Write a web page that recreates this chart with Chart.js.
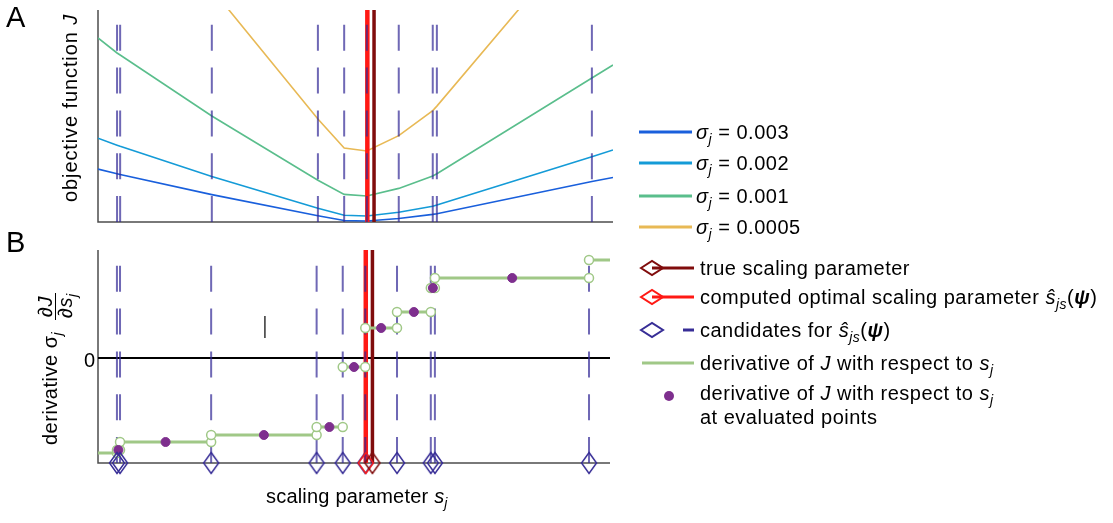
<!DOCTYPE html>
<html>
<head>
<meta charset="utf-8">
<script src="https://cdn.jsdelivr.net/npm/chart.js@4.4.1/dist/chart.umd.min.js"></script>
<style>
  body { margin: 0; width: 1113px; height: 523px; overflow: hidden; background: #fff; font-family: "Liberation Sans", Arial, sans-serif; }
  canvas { position: absolute; left: 0; }
  .t { position: absolute; font-size: 20px; line-height: 24px; letter-spacing: 0.5px; white-space: nowrap; color: #000; }
  .t sub { font-size: 14px; vertical-align: -5px; line-height: 0; }
  .rot { position: absolute; transform-origin: 0 0; transform: rotate(-90deg); }
  .panel { position: absolute; font-size: 29px; line-height: 30px; }
</style>
</head>
<body>
<canvas id="chartA" width="620" height="240" style="top:0"></canvas>
<canvas id="chartB" width="620" height="250" style="top:240px"></canvas>

<div class="panel" style="left:6px;top:2px">A</div>
<div class="panel" style="left:6px;top:227px">B</div>

<div class="rot" style="left:58px;top:202px"><div class="t" style="left:0;top:0;letter-spacing:0.9px">objective function <i>J</i></div></div>
<div class="rot" style="left:36px;top:447px">
  <div class="t" style="left:2px;top:2px">derivative σ<sub><i>j</i></sub></div>
  <div class="t" style="left:130px;top:-3px">∂<i>J</i></div>
  <div style="position:absolute;left:127px;top:18.5px;width:27px;height:1.5px;background:#000"></div>
  <div class="t" style="left:129px;top:17px">∂<i>s</i><sub><i>j</i></sub></div>
</div>
<div class="t" style="left:70px;top:348px;width:25px;text-align:right;letter-spacing:0">0</div>
<div class="t" style="left:266px;top:484px;letter-spacing:0.2px">scaling parameter <i>s</i><sub><i>j</i></sub></div>

<svg style="position:absolute;left:0;top:0" width="1113" height="523">
  <line x1="639" y1="132" x2="692" y2="132" stroke="rgb(25,95,220)" stroke-width="3"/>
  <line x1="639" y1="163" x2="692" y2="163" stroke="rgb(20,155,215)" stroke-width="3"/>
  <line x1="639" y1="196" x2="692" y2="196" stroke="rgb(90,190,140)" stroke-width="3"/>
  <line x1="639" y1="227" x2="692" y2="227" stroke="rgb(232,185,85)" stroke-width="3"/>
  <line x1="652" y1="268" x2="694" y2="268" stroke="rgb(128,12,12)" stroke-width="3"/>
  <polygon points="641,268 652,261 663,268 652,275" fill="none" stroke="rgb(128,12,12)" stroke-width="2"/>
  <line x1="652" y1="297" x2="694" y2="297" stroke="rgb(255,25,20)" stroke-width="3"/>
  <polygon points="641,297 652,290 663,297 652,304" fill="none" stroke="rgb(255,25,20)" stroke-width="2"/>
  <polygon points="641,330 652,323 663,330 652,337" fill="none" stroke="rgb(55,45,150)" stroke-width="2"/>
  <line x1="683" y1="330" x2="694" y2="330" stroke="rgb(55,45,150)" stroke-width="3"/>
  <line x1="642" y1="363" x2="694" y2="363" stroke="rgb(160,200,135)" stroke-width="3"/>
  <circle cx="669" cy="396" r="5" fill="rgb(126,47,142)"/>
</svg>

<div class="t" style="left:696px;top:120px"><i>σ</i><sub><i>j</i></sub> = 0.003</div>
<div class="t" style="left:696px;top:151px"><i>σ</i><sub><i>j</i></sub> = 0.002</div>
<div class="t" style="left:696px;top:184px"><i>σ</i><sub><i>j</i></sub> = 0.001</div>
<div class="t" style="left:696px;top:215px"><i>σ</i><sub><i>j</i></sub> = 0.0005</div>
<div class="t" style="left:700px;top:256px">true scaling parameter</div>
<div class="t" style="left:700px;top:285px">computed optimal scaling parameter <i>ŝ</i><sub><i>js</i></sub>(<b><i>ψ</i></b>)</div>
<div class="t" style="left:700px;top:318px">candidates for <i>ŝ</i><sub><i>js</i></sub>(<b><i>ψ</i></b>)</div>
<div class="t" style="left:700px;top:351px">derivative of <i>J</i> with respect to <i>s</i><sub><i>j</i></sub></div>
<div class="t" style="left:700px;top:381px">derivative of <i>J</i> with respect to <i>s</i><sub><i>j</i></sub></div>
<div class="t" style="left:700px;top:405px">at evaluated points</div>

<script>
// scaling parameter axis (arbitrary units)
var sMin = 0, sMax = 100;
var candidates = [3.7, 4.3, 22.1, 42.7, 47.8, 52.2, 58.4, 65.0, 65.8, 95.9];
var trueS = 53.6;
var optS = 52.3;

// panel A: objective function at the kinks
var sGrid = [0, 3.7, 4.3, 22.1, 42.7, 47.8, 52.2, 58.4, 65.0, 65.8, 95.9, 100];
var J003 = [5.29, 4.82, 4.75, 2.74, 0.62, 0.15, 0.10, 0.35, 0.76, 0.83, 4.05, 4.45];
var J002 = [8.38, 7.68, 7.57, 4.56, 1.38, 0.68, 0.60, 0.97, 1.58, 1.69, 6.53, 7.2];
var J001 = [18.4, 16.9, 16.7, 10.6, 4.17, 2.76, 2.60, 3.36, 4.60, 4.82, 14.4, 15.7];
var J0005 = [39.0, 36.1, 35.7, 23.3, 10.3, 7.4, 7.1, 8.64, 11.14, 11.59, 29.9, 33.0];
var jMin = 0, jMax = 21.2;

// panel B: scaled derivative, constant between the kinks
var stepEdges = [0, 3.7, 4.3, 22.1, 42.7, 47.8, 52.2, 58.4, 65.0, 65.8, 95.9, 100];
var stepLevels = [-9.5, -9.2, -8.4, -7.7, -6.9, -0.9, 3.0, 4.6, 7.0, 8.0, 9.8];
var evalS = [3.98, 13.2, 32.4, 45.2, 50.0, 55.3, 61.7, 65.4, 80.9];
var evalD = [-9.2, -8.4, -7.7, -6.9, -0.9, 3.0, 4.6, 7.0, 8.0];
var markS = 32.6, markD = [2.0, 4.2];
var dMin = -10.5, dMax = 10.8;

var candColor = 'rgba(50,40,150,0.7)';
var redColor = 'rgb(255,25,20)';
var darkRed = 'rgb(128,12,12)';
var green = 'rgb(160,200,135)';
var purple = 'rgb(126,47,142)';
var candDash = [26, 16.8];

function pts(xs, ys) {
    return xs.map(function(x, i) { return {x: x, y: ys[i]}; });
}

function vline(s, y0, y1, color, width, dash) {
    return {
        data: [{x: s, y: y0}, {x: s, y: y1}],
        borderColor: color,
        borderWidth: width,
        borderDash: dash || [],
        pointRadius: 0
    };
}

function diamond(color) {
    var c = document.createElement('canvas');
    c.width = 18; c.height = 24;
    var g = c.getContext('2d');
    g.strokeStyle = color;
    g.lineWidth = 1.5;
    g.beginPath();
    g.moveTo(9, 1.5); g.lineTo(16.5, 12); g.lineTo(9, 22.5); g.lineTo(1.5, 12);
    g.closePath();
    g.stroke();
    return c;
}

// left and bottom axis lines
var axisLines = {
    id: 'axisLines',
    beforeDatasetsDraw: function(chart) {
        var a = chart.chartArea, ctx = chart.ctx;
        ctx.save();
        ctx.strokeStyle = '#4d4d4d';
        ctx.lineWidth = 1.5;
        ctx.beginPath();
        ctx.moveTo(a.left, a.top);
        ctx.lineTo(a.left, a.bottom);
        ctx.lineTo(a.right, a.bottom);
        ctx.stroke();
        ctx.restore();
    }
};

function options(yMin, yMax, pad) {
    return {
        responsive: false,
        animation: false,
        events: [],
        layout: { padding: pad },
        plugins: { legend: { display: false }, tooltip: { enabled: false } },
        scales: {
            x: { type: 'linear', min: sMin, max: sMax, display: false },
            y: { type: 'linear', min: yMin, max: yMax, display: false }
        },
        elements: { line: { tension: 0 } }
    };
}

// Panel A (first dataset is drawn on top)
var dsA = candidates.map(function(s) { return vline(s, jMin, jMax, candColor, 2, candDash); });
dsA.push(vline(optS, jMin, jMax, redColor, 4.5));
dsA.push(vline(trueS, jMin, jMax, darkRed, 3.5));
[[J0005, 'rgb(232,185,85)'], [J001, 'rgb(90,190,140)'], [J002, 'rgb(20,155,215)'], [J003, 'rgb(25,95,220)']].forEach(function(c) {
    dsA.push({ data: pts(sGrid, c[0]), borderColor: c[1], borderWidth: 1.6, pointRadius: 0 });
});

new Chart(document.getElementById('chartA'), {
    type: 'line',
    data: { datasets: dsA },
    options: options(jMin, jMax, { left: 98, top: 10, right: 7, bottom: 18 }),
    plugins: [axisLines]
});

// Panel B
var stepData = [];
for (var i = 0; i < stepLevels.length; i++) {
    stepData.push({x: stepEdges[i], y: stepLevels[i]});
    stepData.push({x: stepEdges[i + 1], y: stepLevels[i]});
    stepData.push({x: stepEdges[i + 1], y: null});
}

var dsB = [];
dsB.push({ data: [{x: trueS, y: dMin}], showLine: false, pointStyle: diamond(darkRed), pointRadius: 9, clip: false });
dsB.push({ data: [{x: optS, y: dMin}], showLine: false, pointStyle: diamond(redColor), pointRadius: 9, clip: false });
dsB.push({ data: candidates.map(function(s) { return {x: s, y: dMin}; }), showLine: false,
           pointStyle: diamond('rgb(55,45,150)'), pointRadius: 9, clip: false });
dsB.push({ data: pts(evalS, evalD), showLine: false, pointRadius: 4.5,
           pointBackgroundColor: purple, pointBorderColor: purple, pointBorderWidth: 1 });
dsB.push({
    data: stepData,
    borderColor: green,
    borderWidth: 3,
    spanGaps: false,
    pointStyle: 'circle',
    pointRadius: function(c) {
        var p = c.raw;
        return (!p || p.y === null || p.x <= sMin || p.x >= sMax) ? 0 : 4.5;
    },
    pointBackgroundColor: '#fff',
    pointBorderColor: green,
    pointBorderWidth: 1.5
});
dsB.push(vline(markS, markD[0], markD[1], '#333', 1.5));
candidates.forEach(function(s) { dsB.push(vline(s, dMin, dMax, candColor, 2, candDash)); });
dsB.push(vline(optS, dMin, dMax, redColor, 4.5));
dsB.push(vline(trueS, dMin, dMax, darkRed, 3.5));
dsB.push({ data: [{x: sMin, y: 0}, {x: sMax, y: 0}], borderColor: '#000', borderWidth: 2, pointRadius: 0 });

new Chart(document.getElementById('chartB'), {
    type: 'line',
    data: { datasets: dsB },
    options: options(dMin, dMax, { left: 98, top: 10, right: 7, bottom: 27 }),
    plugins: [axisLines]
});
</script>
</body>
</html>
